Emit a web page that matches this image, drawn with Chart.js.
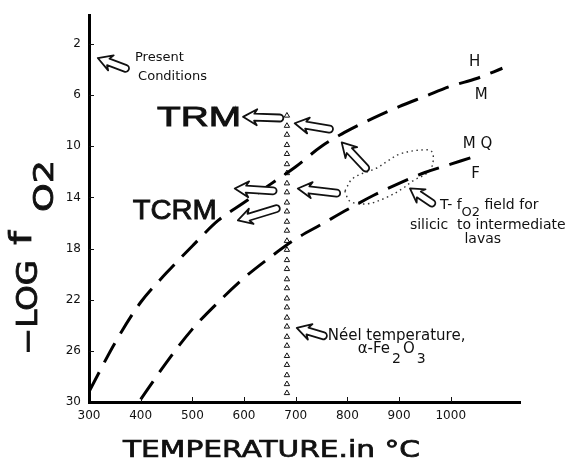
<!DOCTYPE html>
<html>
<head>
<meta charset="utf-8">
<script src="https://cdn.jsdelivr.net/npm/chart.js@4.4.1/dist/chart.umd.min.js"></script>
<style>
  html, body { margin: 0; padding: 0; background: #fff; }
  canvas { display: block; }
</style>
</head>
<body>
<canvas id="chart" width="568" height="462"></canvas>
<script>
// tick labels
const xTicks = [300, 400, 500, 600, 700, 800, 900, 1000];
const yTicks = [2, 6, 10, 14, 18, 22, 26, 30];

// H / M buffer curve
const upperTemp = [300, 350, 400, 450, 500, 550, 600, 650, 700, 750, 800, 850, 900, 950, 1000, 1050, 1100];
const upperLogF = [29.2, 25.4, 22.2, 19.9, 17.8, 15.8, 14.4, 13.0, 11.6, 10.0, 8.8, 7.8, 6.9, 6.1, 5.3, 4.7, 3.9];

// MQ / F buffer curve
const lowerTemp = [400, 450, 500, 550, 600, 650, 700, 750, 800, 850, 900, 950, 1000, 1050];
const lowerLogF = [29.8, 26.9, 24.3, 22.2, 20.3, 18.7, 17.25, 16.1, 14.95, 13.85, 12.9, 12.05, 11.4, 10.75];

// Neel temperature of hematite (triangles)
const neelTemp = 683;
const neelLogF = [7.6, 8.4, 9.1, 9.9, 10.6, 11.4, 12.1, 12.9, 13.6, 14.4, 15.1, 15.9, 16.6, 17.4, 18.1,
                  18.9, 19.6, 20.4, 21.1, 21.9, 22.6, 23.4, 24.1, 24.9, 25.6, 26.4, 27.1, 27.9, 28.6, 29.3];

// T - fO2 field for silicic to intermediate lavas (dotted loop)
const fieldTemp = [795, 805, 838, 876, 907, 927, 954, 965, 963, 940, 902, 876, 857, 811, 795];
const fieldLogF = [13.5, 14.3, 14.5, 14.0, 13.3, 12.7, 12.1, 11.4, 10.4, 10.3, 10.6, 11.2, 11.7, 12.5, 13.5];

// hollow arrows: tip and tail in data units (temperature, -log fO2)
const arrows = [
    { tip: [317, 3.1],  tail: [377, 4.0] },
    { tip: [598, 7.7],  tail: [676, 7.8] },
    { tip: [698, 8.2],  tail: [772, 8.7] },
    { tip: [789, 9.7],  tail: [840, 11.9] },
    { tip: [704, 13.3], tail: [786, 13.7] },
    { tip: [582, 13.3], tail: [663, 13.5] },
    { tip: [588, 15.8], tail: [669, 14.8] },
    { tip: [921, 13.3], tail: [969, 14.6] },
    { tip: [702, 24.2], tail: [760, 24.9] }
];

const FONT = '"DejaVu Sans", "Liberation Sans", sans-serif';
const INK = '#111';

function points(xs, ys) {
    return xs.map((x, i) => ({ x: x, y: ys[i] }));
}

// draw text stretched horizontally to a given width, optional outline to thicken it
function fitText(ctx, text, x, y, width, align, weight) {
    const w = ctx.measureText(text).width;
    ctx.save();
    ctx.translate(x, y);
    ctx.scale(width / w, 1);
    ctx.textAlign = align || 'left';
    ctx.fillText(text, 0, 0);
    if (weight) {
        ctx.lineWidth = weight;
        ctx.strokeStyle = ctx.fillStyle;
        ctx.strokeText(text, 0, 0);
    }
    ctx.restore();
}

// text with subscripts, parts = [{text, dy, gap}]
function drawRich(ctx, parts, x, y, size) {
    let cx = x;
    ctx.textAlign = 'left';
    parts.forEach(p => {
        ctx.font = (p.dy ? size - 1 : size) + 'px ' + FONT;
        cx += p.gap || 0;
        ctx.fillText(p.text, cx, y + (p.dy || 0));
        cx += ctx.measureText(p.text).width;
    });
}

function drawArrow(ctx, x1, y1, x2, y2) {
    const len = Math.hypot(x2 - x1, y2 - y1);
    const ang = Math.atan2(y2 - y1, x2 - x1);
    const hl = Math.min(14, len * 0.45), hw = 8, sw = 3.5;
    ctx.save();
    ctx.translate(x1, y1);
    ctx.rotate(ang);
    ctx.beginPath();
    ctx.moveTo(0, 0);
    ctx.lineTo(hl, -hw);
    ctx.lineTo(hl * 0.8, -sw);
    ctx.lineTo(len - sw, -sw);
    ctx.arc(len - sw, 0, sw, -Math.PI / 2, Math.PI / 2);
    ctx.lineTo(hl * 0.8, sw);
    ctx.lineTo(hl, hw);
    ctx.closePath();
    ctx.fillStyle = '#fff';
    ctx.fill();
    ctx.lineWidth = 1.8;
    ctx.lineJoin = 'round';
    ctx.strokeStyle = INK;
    ctx.stroke();
    ctx.restore();
}

const annotationPlugin = {
    id: 'annotations',
    afterDatasetsDraw(chart) {
        const ctx = chart.ctx;
        const sx = chart.scales.x, sy = chart.scales.y;
        const px = v => sx.getPixelForValue(v);
        const py = v => sy.getPixelForValue(v);

        arrows.forEach(a => drawArrow(ctx, px(a.tip[0]), py(a.tip[1]), px(a.tail[0]), py(a.tail[1])));

        ctx.save();
        ctx.fillStyle = INK;
        ctx.textBaseline = 'alphabetic';

        ctx.font = '13px ' + FONT;
        ctx.textAlign = 'left';
        ctx.fillText('Present', px(389), py(3.34));
        ctx.fillText('Conditions', px(395), py(4.83));

        // buffer labels
        ctx.font = '15px ' + FONT;
        ctx.textAlign = 'center';
        ctx.fillText('H', px(1046), py(3.73));
        ctx.fillText('M', px(1059), py(6.3));
        ctx.fillText('M Q', px(1052), py(10.1));
        ctx.fillText('F', px(1048), py(12.46));

        // TRM / TCRM
        ctx.font = '27px "Liberation Sans", Arial, sans-serif';
        fitText(ctx, 'TRM', px(513), py(8.41), 84, 'center', 0.9);
        ctx.font = '28px "Liberation Sans", Arial, sans-serif';
        fitText(ctx, 'TCRM', px(466), py(15.66), 84, 'center', 0.9);

        // field note
        drawRich(ctx, [{ text: 'T- f' }, { text: 'O2', dy: 7 }, { text: ' field for' }], px(979), py(14.88), 14);
        ctx.font = '14px ' + FONT;
        ctx.textAlign = 'left';
        ctx.fillText('silicic  to intermediate', px(921), py(16.44));
        ctx.textAlign = 'center';
        ctx.fillText('lavas', px(1062), py(17.6));

        // Neel note
        ctx.font = '15px ' + FONT;
        ctx.textAlign = 'left';
        ctx.fillText('Néel temperature,', px(762), py(25.17));
        drawRich(ctx, [{ text: 'α-Fe' }, { text: '2', dy: 10, gap: 2 }, { text: 'O', gap: 2 }, { text: '3', dy: 10, gap: 2 }],
                 px(820), py(26.18), 15);
        ctx.restore();
    },
    afterDraw(chart) {
        const ctx = chart.ctx;
        const area = chart.chartArea;
        const sx = chart.scales.x, sy = chart.scales.y;

        // small inward ticks
        ctx.save();
        ctx.strokeStyle = INK;
        ctx.lineWidth = 1;
        ctx.beginPath();
        xTicks.slice(1).forEach(v => {
            const x = Math.round(sx.getPixelForValue(v)) + 0.5;
            ctx.moveTo(x, area.bottom);
            ctx.lineTo(x, area.bottom - 5);
        });
        yTicks.slice(0, -1).forEach(v => {
            const y = Math.round(sy.getPixelForValue(v)) + 0.5;
            ctx.moveTo(area.left, y);
            ctx.lineTo(area.left + 5, y);
        });
        ctx.stroke();

        // x axis title
        ctx.fillStyle = INK;
        ctx.font = '23px ' + FONT;
        fitText(ctx, 'TEMPERATURE.in °C', area.left + 34, area.bottom + 55, 297, 'left', 0.7);

        // y axis title, rotated
        ctx.translate(area.left - 52, area.bottom - 47);
        ctx.rotate(-Math.PI / 2);
        ctx.font = '28px ' + FONT;
        fitText(ctx, '−LOG', 0, 0, 95, 'left', 0.8);
        ctx.font = '31px ' + FONT;
        fitText(ctx, 'f', 110, -6, 14, 'left', 0.8);
        ctx.font = '27px ' + FONT;
        fitText(ctx, 'O2', 143, 16, 52, 'left', 0.8);
        ctx.restore();
    }
};

const ctx = document.getElementById('chart').getContext('2d');

new Chart(ctx, {
    type: 'line',
    data: {
        datasets: [
            {
                label: 'H/M',
                data: points(upperTemp, upperLogF),
                borderColor: '#000',
                borderWidth: 3,
                borderDash: [22, 11],
                cubicInterpolationMode: 'monotone',
                pointRadius: 0,
                fill: false
            },
            {
                label: 'MQ/F',
                data: points(lowerTemp, lowerLogF),
                borderColor: '#000',
                borderWidth: 3,
                borderDash: [22, 11],
                cubicInterpolationMode: 'monotone',
                pointRadius: 0,
                fill: false
            },
            {
                label: 'Field',
                data: points(fieldTemp, fieldLogF),
                borderColor: '#333',
                borderWidth: 1.4,
                borderDash: [1.5, 3.5],
                tension: 0.35,
                pointRadius: 0,
                fill: false
            },
            {
                label: 'Neel',
                data: neelLogF.map(v => ({ x: neelTemp, y: v })),
                showLine: false,
                pointStyle: 'triangle',
                pointRadius: 3.1,
                pointBorderWidth: 1,
                pointBorderColor: '#111',
                pointBackgroundColor: '#fff'
            }
        ]
    },
    options: {
        responsive: false,
        animation: false,
        layout: {
            padding: { left: 0, top: 14, right: 48, bottom: 0 }
        },
        plugins: {
            legend: { display: false },
            tooltip: { enabled: false }
        },
        scales: {
            x: {
                type: 'linear',
                min: 300,
                max: 1134,
                afterBuildTicks: s => { s.ticks = xTicks.map(v => ({ value: v })); },
                afterFit: s => { s.height = 60; },
                grid: { display: false, drawTicks: false },
                border: { display: true, color: '#000', width: 3 },
                ticks: {
                    autoSkip: false,
                    maxRotation: 0,
                    padding: 7,
                    color: INK,
                    font: { family: FONT, size: 12 },
                    callback: v => String(v)
                }
            },
            y: {
                type: 'linear',
                reverse: true,
                min: -0.25,
                max: 30,
                afterBuildTicks: s => { s.ticks = yTicks.map(v => ({ value: v })); },
                afterFit: s => { s.width = 89; },
                grid: { display: false, drawTicks: false },
                border: { display: true, color: '#000', width: 3 },
                ticks: {
                    autoSkip: false,
                    padding: 8,
                    color: INK,
                    font: { family: FONT, size: 12 },
                    callback: v => String(v)
                }
            }
        }
    },
    plugins: [annotationPlugin]
});
</script>
</body>
</html>
